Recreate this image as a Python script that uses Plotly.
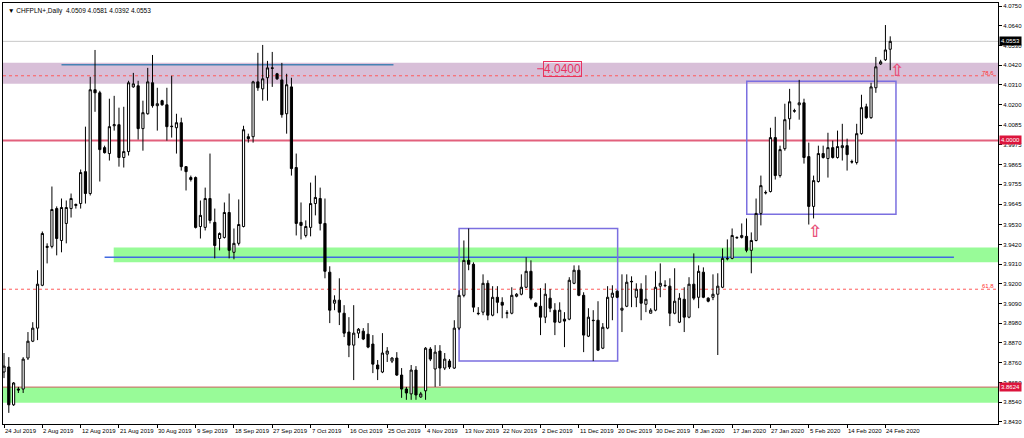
import plotly.graph_objects as go
import pandas as pd

symbol = "CHFPLN+"
period = "Daily"

# OHLC (daily bars, feed has Sunday sessions)
opens = [3.8708, 3.8736, 3.8525, 3.8613, 3.8613, 3.8786, 3.8880, 3.8953, 3.9192, 3.9403,
         3.9409, 3.9620, 3.9442, 3.9537, 3.9620, 3.9637, 3.9648, 3.9826, 3.9704, 4.0283,
         4.0266, 3.9960, 3.9927, 4.0082, 4.0088, 3.9905, 3.9938, 4.0299, 4.0305, 4.0066,
         4.0149, 4.0322, 4.0194, 4.0222, 4.0199, 4.0077, 4.0071, 4.0099, 3.9854, 3.9793,
         3.9793, 3.9520, 3.9515, 3.9676, 3.9543, 3.9453, 3.9459, 3.9598, 3.9376, 3.9426,
         3.9520, 4.0021, 4.0021, 4.0327, 4.0288, 4.0350, 4.0405, 4.0372, 4.0338, 4.0149,
         4.0299, 3.9849, 3.9543, 3.9470, 3.9515, 3.9648, 3.9676, 3.9537, 3.9265, 3.9092,
         3.9109, 3.9036, 3.8931, 3.8858, 3.8925, 3.8936, 3.8919, 3.8864, 3.8747, 3.8708,
         3.8808, 3.8769, 3.8786, 3.8691, 3.8613, 3.8586, 3.8719, 3.8569, 3.8603, 3.8836,
         3.8725, 3.8825, 3.8730, 3.8769, 3.8730, 3.8953, 3.9136, 3.9331, 3.9309, 3.9036,
         3.9042, 3.9203, 3.9025, 3.9125, 3.9097, 3.9036, 3.9036, 3.9131, 3.9142, 3.9181,
         3.9270, 3.9092, 3.9075, 3.9014, 3.9120, 3.9053, 3.8986, 3.9003, 3.9003, 3.9203,
         3.9276, 3.9136, 3.8908, 3.8997, 3.8997, 3.8841, 3.8953, 3.9125, 3.9159, 3.9053,
         3.9075, 3.9214, 3.9125, 3.9170, 3.9086, 3.9036, 3.9053, 3.9187, 3.9192, 3.9187,
         3.9036, 3.8986, 3.9114, 3.9014, 3.9198, 3.9125, 3.9265, 3.9120, 3.9125, 3.9142,
         3.9181, 3.9342, 3.9342, 3.9459, 3.9459, 3.9465, 3.9387, 3.9442, 3.9593, 3.9710,
         3.9715, 4.0016, 3.9804, 3.9954, 4.0121, 4.0166, 4.0199, 4.0210, 3.9910, 3.9632,
         3.9771, 3.9927, 3.9899, 3.9960, 3.9905, 3.9960, 3.9971, 3.9882, 3.9877, 4.0038,
         4.0188, 4.0127, 4.0294, 4.0427, 4.0450, 4.0509]
highs = [3.8814, 3.8791, 3.8652, 3.8625, 3.8791, 3.8931, 3.8986, 3.9276, 3.9492, 3.9426,
         3.9743, 3.9632, 3.9676, 3.9665, 3.9704, 3.9648, 3.9838, 4.0077, 4.0355, 4.0505,
         4.0277, 3.9971, 4.0233, 4.0249, 4.0183, 4.0188, 4.0333, 4.0377, 4.0333, 4.0222,
         4.0405, 4.0477, 4.0294, 4.0227, 4.0294, 4.0361, 4.0149, 4.0127, 3.9856, 3.9804,
         3.9799, 3.9665, 3.9737, 3.9927, 3.9620, 3.9487, 3.9654, 3.9704, 3.9509, 3.9671,
         4.0082, 4.0038, 4.0333, 4.0489, 4.0533, 4.0444, 4.0494, 4.0377, 4.0433, 4.0372,
         4.0350, 3.9927, 3.9654, 3.9554, 3.9765, 3.9804, 3.9737, 3.9676, 3.9298, 3.9136,
         3.9231, 3.9081, 3.9014, 3.9081, 3.8953, 3.8953, 3.8981, 3.8914, 3.8775, 3.8925,
         3.8847, 3.8791, 3.8819, 3.8730, 3.8625, 3.8747, 3.8741, 3.8597, 3.8847, 3.8847,
         3.8858, 3.8858, 3.8814, 3.8780, 3.8997, 3.9164, 3.9442, 3.9509, 3.9320, 3.9070,
         3.9253, 3.9220, 3.9187, 3.9187, 3.9125, 3.9053, 3.9181, 3.9148, 3.9253, 3.9348,
         3.9331, 3.9097, 3.9176, 3.9203, 3.9170, 3.9092, 3.9097, 3.9042, 3.9237, 3.9303,
         3.9303, 3.9153, 3.9064, 3.9053, 3.9103, 3.8981, 3.9187, 3.9192, 3.9164, 3.9253,
         3.9253, 3.9242, 3.9203, 3.9203, 3.9248, 3.9064, 3.9270, 3.9314, 3.9220, 3.9231,
         3.9287, 3.9148, 3.9181, 3.9237, 3.9370, 3.9303, 3.9292, 3.9125, 3.9253, 3.9259,
         3.9398, 3.9448, 3.9509, 3.9465, 3.9537, 3.9565, 3.9487, 3.9676, 3.9804, 3.9721,
         4.0071, 4.0132, 3.9971, 4.0205, 4.0288, 4.0177, 4.0338, 4.0233, 3.9988, 3.9804,
         3.9971, 3.9971, 4.0043, 3.9999, 4.0055, 4.0093, 4.0010, 3.9893, 4.0093, 4.0255,
         4.0205, 4.0322, 4.0466, 4.0450, 4.0644, 4.0581]
lows = [3.8674, 3.8480, 3.8519, 3.8591, 3.8591, 3.8775, 3.8875, 3.8886, 3.9187, 3.9314,
        3.9398, 3.9359, 3.9376, 3.9426, 3.9570, 3.9620, 3.9620, 3.9648, 3.9693, 4.0160,
        3.9771, 3.9927, 3.9888, 4.0055, 3.9854, 3.9849, 3.9916, 4.0294, 4.0005, 3.9943,
        4.0144, 4.0183, 4.0055, 4.0194, 3.9999, 4.0016, 3.9927, 3.9832, 3.9721, 3.9771,
        3.9509, 3.9453, 3.9498, 3.9537, 3.9342, 3.9387, 3.9453, 3.9342, 3.9337, 3.9414,
        3.9515, 3.9988, 3.9988, 4.0277, 4.0222, 4.0222, 4.0299, 4.0338, 4.0127, 4.0038,
        3.9804, 3.9470, 3.9448, 3.9459, 3.9465, 3.9582, 3.9498, 3.9231, 3.8981, 3.9053,
        3.8970, 3.8903, 3.8791, 3.8663, 3.8897, 3.8886, 3.8841, 3.8702, 3.8663, 3.8702,
        3.8764, 3.8758, 3.8686, 3.8564, 3.8553, 3.8553, 3.8553, 3.8564, 3.8553, 3.8769,
        3.8625, 3.8630, 3.8719, 3.8725, 3.8725, 3.8942, 3.9125, 3.9276, 3.9042, 3.9025,
        3.9025, 3.8997, 3.9019, 3.9036, 3.9008, 3.9008, 3.9030, 3.9125, 3.9136, 3.9176,
        3.9109, 3.9070, 3.8914, 3.8981, 3.9042, 3.8914, 3.8981, 3.8847, 3.8997, 3.9198,
        3.9131, 3.8819, 3.8903, 3.8769, 3.8825, 3.8836, 3.8947, 3.8997, 3.9120, 3.8931,
        3.9070, 3.9070, 3.9070, 3.8997, 3.9042, 3.9036, 3.9047, 3.9125, 3.9181, 3.8964,
        3.9030, 3.8981, 3.8931, 3.9008, 3.9109, 3.9064, 3.9120, 3.9097, 3.9109, 3.8803,
        3.9176, 3.9331, 3.9337, 3.9453, 3.9453, 3.9376, 3.9259, 3.9437, 3.9526, 3.9699,
        3.9710, 3.9782, 3.9793, 3.9943, 4.0060, 4.0155, 4.0116, 3.9871, 3.9531, 3.9565,
        3.9765, 3.9899, 3.9793, 3.9899, 3.9899, 3.9888, 3.9832, 3.9871, 3.9866, 4.0032,
        4.0121, 4.0121, 4.0266, 4.0422, 4.0444, 4.0392]
closes = [3.8741, 3.8525, 3.8647, 3.8608, 3.8780, 3.8880, 3.8953, 3.9198, 3.9481, 3.9409,
          3.9615, 3.9453, 3.9626, 3.9626, 3.9676, 3.9643, 3.9821, 3.9704, 4.0283, 4.0266,
          3.9949, 3.9932, 4.0077, 4.0088, 3.9905, 3.9938, 4.0322, 4.0316, 4.0066, 4.0155,
          4.0327, 4.0194, 4.0205, 4.0199, 4.0077, 4.0079, 4.0099, 3.9854, 3.9826, 3.9782,
          3.9515, 3.9582, 3.9676, 3.9554, 3.9414, 3.9481, 3.9598, 3.9387, 3.9426, 3.9531,
          4.0060, 4.0010, 4.0327, 4.0294, 4.0344, 4.0405, 4.0403, 4.0344, 4.0144, 4.0311,
          3.9843, 3.9537, 3.9526, 3.9520, 3.9648, 3.9682, 3.9537, 3.9270, 3.9053, 3.9109,
          3.9042, 3.8925, 3.8858, 3.8925, 3.8947, 3.8892, 3.8847, 3.8752, 3.8725, 3.8814,
          3.8825, 3.8786, 3.8691, 3.8613, 3.8591, 3.8719, 3.8580, 3.8586, 3.8841, 3.8780,
          3.8819, 3.8730, 3.8780, 3.8736, 3.8953, 3.9136, 3.9331, 3.9309, 3.9070, 3.9034,
          3.9203, 3.9025, 3.9125, 3.9097, 3.9081, 3.9038, 3.9136, 3.9142, 3.9181, 3.9270,
          3.9120, 3.9075, 3.9014, 3.9142, 3.9064, 3.8986, 3.9053, 3.8992, 3.9220, 3.9276,
          3.9136, 3.8914, 3.9014, 3.8995, 3.8830, 3.8958, 3.9125, 3.9148, 3.9125, 3.9064,
          3.9209, 3.9212, 3.9170, 3.9092, 3.9114, 3.9053, 3.9181, 3.9203, 3.9190, 3.9036,
          3.9103, 3.9120, 3.9014, 3.9198, 3.9120, 3.9270, 3.9125, 3.9103, 3.9142, 3.9187,
          3.9342, 3.9340, 3.9470, 3.9457, 3.9470, 3.9387, 3.9442, 3.9593, 3.9748, 3.9708,
          4.0016, 3.9804, 3.9949, 4.0116, 4.0216, 4.0164, 4.0210, 3.9905, 3.9632, 3.9776,
          3.9927, 3.9905, 3.9960, 3.9905, 3.9966, 3.9971, 3.9921, 3.9880, 4.0038, 4.0183,
          4.0127, 4.0299, 4.0411, 4.0439, 4.0505, 4.0553]

# bar dates (Sunday to Friday sessions)
all_days = pd.date_range("2019-07-24", "2020-02-25", freq="D")
dates = [d for d in all_days if d.weekday() != 5]
n = len(opens)
bars = list(range(n))

tick_step = 8
tick_bars = list(range(0, n, tick_step))
tick_labels = [f"{dates[i].day} {dates[i].strftime('%b %Y')}" for i in tick_bars]

price_ticks = [4.0750, 4.0640, 4.0530, 4.0420, 4.0310, 4.0200, 4.0085, 3.9975, 3.9865,
               3.9755, 3.9645, 3.9530, 3.9420, 3.9310, 3.9200, 3.9090, 3.8980, 3.8870,
               3.8760, 3.8650, 3.8540, 3.8430]

# drawn objects
zone_top = (4.0316, 4.0433)
zone_mid = (3.9320, 3.9403)
zone_low = (3.8536, 3.8625)
zone_mid_start = 22.9
round_level = 4.0000
support_level = 3.8624
fib_levels = [("78.6", 4.0361), ("61.8", 3.9170)]
hline_top = (12.0, 81.3, 4.0422)
hline_mid = (21.0, 198.3, 3.9348)
boxes = [(95.0, 128.1, 3.8769, 3.9509), (155.05, 186.2, 3.9589, 4.0331)]
price_label = (112.6, 4.0400)
arrows = [(169.2, 3.9562), (186.4, 4.0458)]

y_range = [3.8418, 4.0767]
x_range = [-0.21, 207.5]

FONT = "Liberation Sans, Arial, sans-serif"
CRIMSON = "#DC143C"

fig = go.Figure()
fig.add_trace(go.Candlestick(
    x=bars, open=opens, high=highs, low=lows, close=closes,
    increasing=dict(line=dict(color="black", width=1), fillcolor="white"),
    decreasing=dict(line=dict(color="black", width=1), fillcolor="black"),
    whiskerwidth=0, hoverinfo="skip", showlegend=False,
))

shapes = []
def band(x0, x1, y0, y1, color, xref="x"):
    shapes.append(dict(type="rect", xref=xref, yref="y", x0=x0, x1=x1, y0=y0, y1=y1,
                       fillcolor=color, line=dict(width=0), layer="below"))

def hline(x0, x1, y, color, width=1, dash="solid", xref="x"):
    shapes.append(dict(type="line", xref=xref, yref="y", x0=x0, x1=x1, y0=y, y1=y,
                       line=dict(color=color, width=width, dash=dash), layer="below"))

band(0, 1, zone_top[0], zone_top[1], "#D8BFD8", xref="paper")
band(zone_mid_start, x_range[1], zone_mid[0], zone_mid[1], "#98FB98")
band(0, 1, zone_low[0], zone_low[1], "#98FB98", xref="paper")
hline(0, 1, closes[-1], "#C8C8C8", 1, xref="paper")
hline(0, 1, round_level, "#E2607C", 2, xref="paper")
hline(0, 1, support_level, "#CD6060", 1, xref="paper")
for lab, lv in fib_levels:
    hline(0, 1, lv, "#FF5A5A", 1, dash="dot", xref="paper")
hline(hline_top[0], hline_top[1], hline_top[2], "#4682B4", 1.5)
hline(hline_mid[0], hline_mid[1], hline_mid[2], "#4169E1", 1.5)
for (bx0, bx1, by0, by1) in boxes:
    shapes.append(dict(type="rect", xref="x", yref="y", x0=bx0, x1=bx1, y0=by0, y1=by1,
                       line=dict(color="#7B6FE0", width=1.5), fillcolor="rgba(0,0,0,0)",
                       layer="below"))
# price-label leader
hline(price_label[0] - 1.3, price_label[0], price_label[1], "#E8335F", 1)

annotations = []
# title
annotations.append(dict(
    xref="paper", yref="paper", x=0, y=1, xanchor="left", yanchor="top",
    xshift=3, yshift=-2, showarrow=False,
    text=f"\u25BC {symbol},{period}  {opens[-1]:.4f} {highs[-1]:.4f} {lows[-1]:.4f} {closes[-1]:.4f}",
    font=dict(family=FONT, size=6.5, color="black")))
# bottom date labels (left-aligned at their tick as in MT4)
for b, lab in zip(tick_bars, tick_labels):
    annotations.append(dict(xref="x", yref="paper", x=b, y=0, xanchor="left", yanchor="top",
                            xshift=-1, yshift=-2, showarrow=False, text=lab,
                            font=dict(family=FONT, size=6, color="black")))
# axis price boxes
for val, bg in [(closes[-1], "black"), (round_level, CRIMSON), (support_level, CRIMSON)]:
    annotations.append(dict(xref="paper", yref="y", x=1, y=val, xanchor="left", yanchor="middle",
                            xshift=1, showarrow=False, text=f"{val:.4f}", bgcolor=bg,
                            borderpad=1, font=dict(family=FONT, size=6, color="white")))
# fib labels
for lab, lv in fib_levels:
    annotations.append(dict(xref="paper", yref="y", x=1, y=lv, xanchor="right", yanchor="bottom",
                            xshift=-2, yshift=-2, showarrow=False, text=lab,
                            font=dict(family=FONT, size=6, color="#FF3030")))
# 4.0400 price label
annotations.append(dict(xref="x", yref="y", x=price_label[0], y=price_label[1], xanchor="left",
                        yanchor="middle", showarrow=False, text=f"{price_label[1]:.4f}",
                        bordercolor="#E8335F", borderwidth=1, borderpad=0,
                        font=dict(family=FONT, size=12, color="#E8335F")))
# signal arrows
for ax_, ay_ in arrows:
    annotations.append(dict(xref="x", yref="y", x=ax_, y=ay_, xanchor="center", yanchor="top",
                            showarrow=False, text="<b>\u21E7</b>",
                            font=dict(family="DejaVu Sans", size=17, color="#E8507A")))

fig.update_layout(
    width=1024, height=438,
    margin=dict(l=2, r=25, t=2, b=14),
    paper_bgcolor="white", plot_bgcolor="white",
    shapes=shapes, annotations=annotations,
    showlegend=False, boxgap=0.35,
    font=dict(family=FONT, size=6, color="black"),
)
fig.update_xaxes(range=x_range, showgrid=False, zeroline=False, rangeslider_visible=False,
                 tickvals=tick_bars, showticklabels=False, ticks="outside", ticklen=3,
                 tickcolor="black", showline=True, linecolor="black", linewidth=1, mirror=True)
fig.update_yaxes(range=y_range, side="right", showgrid=False, zeroline=False,
                 tickvals=price_ticks, ticktext=[f"{v:.4f}" for v in price_ticks],
                 ticks="outside", ticklen=3, tickcolor="black",
                 tickfont=dict(family=FONT, size=6, color="black"),
                 showline=True, linecolor="black", linewidth=1, mirror=True)

fig.write_html("out.html", config={"displayModeBar": False},
               post_script="document.body.style.margin='0';")
